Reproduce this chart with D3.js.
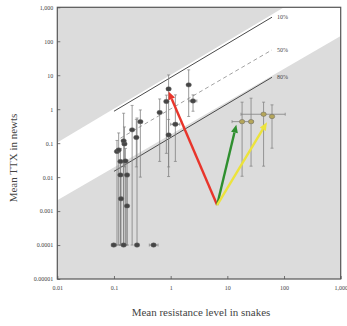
<!DOCTYPE html>
<html><head><meta charset="utf-8">
<script src="https://cdn.jsdelivr.net/npm/d3@7"></script>
<style>body{margin:0;background:#fff}svg{display:block}</style>
</head><body>
<script>
// ---- data ----
const xTicks = [0.01, 0.1, 1, 10, 100, 1000];
const xTickLabels = ["0.01", "0.1", "1", "10", "100", "1,000"];
const yTicks = [1e-5, 1e-4, 1e-3, 0.01, 0.1, 1, 10, 100, 1000];
const yTickLabels = ["0.00001", "0.0001", "0.001", "0.01", "0.1", "1", "10", "100", "1,000"];

// grey populations: snake resistance (x) vs newt TTX (y)
const greyRes   = [0.099, 0.148, 0.255, 0.50, 0.113, 0.153, 0.121, 0.13, 0.159, 0.13, 0.17, 0.133, 0.17, 0.209, 0.248, 0.292, 0.148, 0.64, 0.92, 0.84, 0.92, 1.21, 2.08, 2.48];
const greyTTX   = [0.0001, 0.0001, 0.0001, 0.0001, 0.057, 0.095, 0.063, 0.029, 0.030, 0.0116, 0.0116, 0.0023, 0.00142, 0.246, 0.147, 0.43, 0.117, 0.80, 3.96, 1.69, 0.175, 0.36, 5.2, 1.75];
const greyTTXLo = [0.0001, 0.0001, 0.0001, 0.0001, 0.0001, 0.02, 0.0001, 0.0001, 0.0001, 0.0001, 0.0001, 0.0001, 0.0001, 0.0001, 0.02, 0.01, 0.0001, 0.029, 0.0104, 0.05, 0.02, 0.029, 0.61, 0.87];
const greyTTXHi = [0.0001, 0.03, 0.55, 0.0001, 0.12, 0.3, 0.2, 0.07, 0.07, 0.03, 0.03, 0.012, 0.01, 1.29, 0.5, 0.95, 0.76, 2.0, 10.2, 2.6, 0.5, 2.64, 14.4, 2.64];
const greyResLo = [0.09, 0.14, 0.24, 0.42, 0.113, 0.153, 0.121, 0.13, 0.159, 0.13, 0.17, 0.133, 0.17, 0.209, 0.248, 0.292, 0.148, 0.64, 0.92, 0.84, 0.92, 1.0, 2.08, 2.1];
const greyResHi = [0.11, 0.16, 0.27, 0.6, 0.113, 0.153, 0.121, 0.13, 0.159, 0.13, 0.17, 0.133, 0.17, 0.209, 0.248, 0.292, 0.148, 0.64, 0.92, 0.84, 0.92, 1.45, 2.08, 2.9];

// coloured populations
const colRes   = [18.2, 26.2, 43.6, 61.4];
const colTTX   = [0.43, 0.43, 0.71, 0.61];
const colTTXLo = [0.0106, 0.021, 0.021, 0.071];
const colTTXHi = [1.61, 2.11, 1.61, 1.34];
const colResLo = [12.1, 26.2, 17.4, 61.4];
const colResHi = [28.7, 26.2, 105, 61.4];

// mismatch lines
const lineNames = ["10%", "50%", "80%"];
const lineRes = [[0.1, 61.4], [0.13, 61.4], [0.1, 61.4]];
const lineTTX = [[0.87, 512], [0.14, 55.7], [0.0148, 8.7]];

// shaded boundaries of the matched zone
const bandUpperRes = [0.01, 100];
const bandUpperTTX = [0.105, 1000];
const bandLowerRes = [0.01, 1000];
const bandLowerTTX = [0.0021, 144];

// arrows
const arrowStart = [6.6, 0.0015];
const arrowEndRes = [0.92, 14.4, 50];
const arrowEndTTX = [3.3, 0.35, 0.41];
const arrowColors = ["#e8352b", "#2f8f2f", "#ece33c"];

// ---- drawing ----
const W = 347, H = 326;
const svg = d3.select("body").append("svg").attr("width", W).attr("height", H);
const x = d3.scaleLog().domain([0.01, 1000]).range([57.3, 340.7]);
const y = d3.scaleLog().domain([1e-5, 1000]).range([279, 7.3]);
const [x0, x1] = x.range(), [y0, y1] = y.range();

svg.append("rect").attr("x", x0).attr("y", y1).attr("width", x1 - x0).attr("height", y0 - y1).attr("fill", "#fff");

const grey = "#dcdcdc";
const line = d3.line().x(d => x(d[0])).y(d => y(d[1]));
svg.append("path").attr("fill", grey).attr("d", line([
  [0.01, bandUpperTTX[0]], [bandUpperRes[1], bandUpperTTX[1]], [0.01, 1000]
]) + "Z");
svg.append("path").attr("fill", grey).attr("d", line([
  [0.01, 1e-5], [bandLowerRes[0], bandLowerTTX[0]], [bandLowerRes[1], bandLowerTTX[1]], [1000, 1e-5]
]) + "Z");

lineNames.forEach((n, i) => {
  const pts = lineRes[i].map((r, j) => [r, lineTTX[i][j]]);
  svg.append("path").attr("d", line(pts)).attr("fill", "none")
    .attr("stroke", i === 1 ? "#8a8a8a" : "#4a4a4a").attr("stroke-width", i === 1 ? 0.8 : 1)
    .attr("stroke-dasharray", i === 1 ? "4,3" : null);
  svg.append("text").attr("x", x(lineRes[i][1]) + 5).attr("y", y(lineTTX[i][1]) + 2)
    .attr("font-family", "Liberation Serif, serif").attr("font-size", 6).attr("fill", "#444").text(n);
});

function drawGroup(res, ttx, lo, hi, rlo, rhi, fill, r) {
  const g = svg.append("g");
  res.forEach((v, i) => {
    const cx = x(v), cy = y(ttx[i]);
    if (lo[i] !== hi[i]) {
      g.append("line").attr("x1", cx).attr("x2", cx).attr("y1", y(lo[i])).attr("y2", y(hi[i]))
        .attr("stroke", "#808080").attr("stroke-width", 0.8);
      [lo[i], hi[i]].forEach(b => g.append("line").attr("x1", cx - 1.5).attr("x2", cx + 1.5)
        .attr("y1", y(b)).attr("y2", y(b)).attr("stroke", "#808080").attr("stroke-width", 0.7));
    }
    if (rlo[i] !== rhi[i]) {
      g.append("line").attr("x1", x(rlo[i])).attr("x2", x(rhi[i])).attr("y1", cy).attr("y2", cy)
        .attr("stroke", "#808080").attr("stroke-width", 0.8);
      [rlo[i], rhi[i]].forEach(b => g.append("line").attr("x1", x(b)).attr("x2", x(b))
        .attr("y1", cy - 1.5).attr("y2", cy + 1.5).attr("stroke", "#808080").attr("stroke-width", 0.7));
    }
  });
  res.forEach((v, i) => {
    g.append("ellipse").attr("cx", x(v)).attr("cy", y(ttx[i])).attr("rx", r + 0.5).attr("ry", r)
      .attr("fill", fill).attr("stroke", "#666").attr("stroke-width", 0.5);
  });
}
drawGroup(greyRes, greyTTX, greyTTXLo, greyTTXHi, greyResLo, greyResHi, "#454545", 2.2);
drawGroup(colRes, colTTX, colTTXLo, colTTXHi, colResLo, colResHi, "#b5a65a", 2.2);

arrowEndRes.forEach((r, i) => {
  const sx = x(arrowStart[0]), sy = y(arrowStart[1]);
  const ex = x(r), ey = y(arrowEndTTX[i]);
  const a = Math.atan2(ey - sy, ex - sx);
  const L = 8, Wd = 3.5;
  const bx = ex - L * Math.cos(a), by = ey - L * Math.sin(a);
  svg.append("line").attr("x1", sx).attr("y1", sy).attr("x2", bx).attr("y2", by)
    .attr("stroke", arrowColors[i]).attr("stroke-width", 2.4);
  const p = [[ex, ey], [bx + Wd * Math.sin(a), by - Wd * Math.cos(a)], [bx - Wd * Math.sin(a), by + Wd * Math.cos(a)]];
  svg.append("path").attr("d", "M" + p.map(q => q.join(",")).join("L") + "Z").attr("fill", arrowColors[i]);
});

svg.append("rect").attr("x", x0).attr("y", y1).attr("width", x1 - x0).attr("height", y0 - y1)
  .attr("fill", "none").attr("stroke", "#555").attr("stroke-width", 1.2);

const xAxis = d3.axisBottom(x).tickValues(xTicks).tickFormat((d, i) => xTickLabels[i]).tickSizeInner(-3).tickSizeOuter(0).tickPadding(7);
const yAxis = d3.axisLeft(y).tickValues(yTicks).tickFormat((d, i) => yTickLabels[i]).tickSizeInner(-3).tickSizeOuter(0).tickPadding(4);
const gx = svg.append("g").attr("transform", `translate(0,${y0})`).call(xAxis);
const gy = svg.append("g").attr("transform", `translate(${x0},0)`).call(yAxis);
[gx, gy].forEach(g => {
  g.select(".domain").remove();
  g.selectAll(".tick line").attr("stroke", "#555").attr("stroke-width", 0.8);
  g.selectAll(".tick text").attr("font-family", "Liberation Serif, serif").attr("font-size", 6).attr("fill", "#444");
});

svg.append("text").attr("x", 201).attr("y", 316).attr("text-anchor", "middle")
  .attr("font-family", "Liberation Serif, serif").attr("font-size", 11).attr("fill", "#444")
  .text("Mean resistance level in snakes");
svg.append("text").attr("transform", "translate(17,158) rotate(-90)").attr("text-anchor", "middle")
  .attr("font-family", "Liberation Serif, serif").attr("font-size", 11).attr("fill", "#444")
  .text("Mean TTX in newts");
</script>
</body></html>
